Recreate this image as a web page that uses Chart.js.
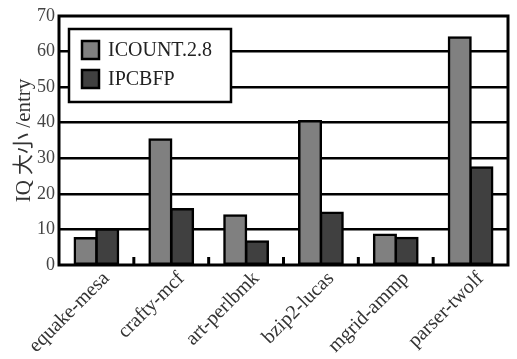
<!DOCTYPE html>
<html>
<head>
<meta charset="utf-8">
<script src="https://cdn.jsdelivr.net/npm/chart.js@4/dist/chart.umd.min.js"></script>
<style>
  html, body { margin: 0; padding: 0; background: #fff; }
  #wrap { width: 517px; height: 359px; }
</style>
</head>
<body>
<div id="wrap"><canvas id="iqChart"></canvas></div>
<script>
const categories = ['equake-mesa', 'crafty-mcf', 'art-perlbmk', 'bzip2-lucas', 'mgrid-ammp', 'parser-twolf'];
const icount = [7.5, 35.3, 13.9, 40.4, 8.5, 64.0];
const ipcbfp = [10.0, 15.7, 6.6, 14.7, 7.6, 27.4];
const yTicks = [0, 10, 20, 30, 40, 50, 60, 70];

const SERIF = '"Liberation Serif", "Noto Sans CJK SC", serif';

// frame, inner boundary ticks and boxed legend
const framePlugin = {
  id: 'frame',
  afterDatasetsDraw(chart) {
    const { ctx, chartArea: a } = chart;
    const x = chart.scales.x;
    ctx.save();
    ctx.strokeStyle = '#000';
    ctx.lineWidth = 3;
    for (let i = 0; i < categories.length - 1; i++) {
      const px = (x.getPixelForValue(i) + x.getPixelForValue(i + 1)) / 2;
      ctx.beginPath();
      ctx.moveTo(px, a.bottom);
      ctx.lineTo(px, a.bottom - 8);
      ctx.stroke();
    }
    ctx.strokeRect(a.left, a.top, a.right - a.left, a.bottom - a.top);

    // legend
    const lx = 69, ly = 29, lw = 162, lh = 73;
    ctx.fillStyle = '#fff';
    ctx.fillRect(lx, ly, lw, lh);
    ctx.lineWidth = 2.5;
    ctx.strokeRect(lx, ly, lw, lh);
    chart.data.datasets.forEach((ds, i) => {
      const sy = 41 + i * 29;
      ctx.fillStyle = ds.backgroundColor;
      ctx.fillRect(82, sy, 17, 18);
      ctx.lineWidth = 2.5;
      ctx.strokeStyle = '#000';
      ctx.strokeRect(82, sy, 17, 18);
      ctx.fillStyle = '#222';
      ctx.font = '20px ' + SERIF;
      ctx.textBaseline = 'middle';
      ctx.fillText(ds.label, 108, sy + 10);
    });
    ctx.restore();
  }
};

new Chart(document.getElementById('iqChart'), {
  type: 'bar',
  data: {
    labels: categories,
    datasets: [
      {
        label: 'ICOUNT.2.8',
        data: icount,
        backgroundColor: '#808080',
        borderColor: '#000',
        borderWidth: 2.5,
        borderSkipped: false,
        inflateAmount: 1.2
      },
      {
        label: 'IPCBFP',
        data: ipcbfp,
        backgroundColor: '#404040',
        borderColor: '#000',
        borderWidth: 2.5,
        borderSkipped: false,
        inflateAmount: 1.2
      }
    ]
  },
  options: {
    responsive: true,
    maintainAspectRatio: false,
    animation: false,
    events: [],
    layout: { padding: { top: 16, right: 9, left: 0, bottom: 0 } },
    categoryPercentage: 0.58,
    barPercentage: 1.0,
    plugins: {
      legend: { display: false },
      tooltip: { enabled: false }
    },
    scales: {
      x: {
        grid: { display: false },
        border: { display: false },
        ticks: {
          color: '#333',
          font: { family: SERIF, size: 20 },
          maxRotation: 45,
          minRotation: 45,
          padding: -6,
          labelOffset: 10
        },
        afterFit(s) { s.height = 94; }
      },
      y: {
        min: 0,
        max: 70,
        afterBuildTicks(s) { s.ticks = yTicks.map(v => ({ value: v })); },
        grid: {
          color: ctx => (ctx.tick && (ctx.tick.value === 0 || ctx.tick.value === 70)) ? 'rgba(0,0,0,0)' : '#000',
          lineWidth: 2.5,
          drawTicks: false
        },
        border: { display: false },
        ticks: {
          color: '#444',
          font: { family: SERIF, size: 18 },
          padding: 4
        },
        title: {
          display: true,
          text: 'IQ 大小 /entry',
          color: '#333',
          font: { family: SERIF, size: 21 },
          padding: { top: 12, bottom: 0 }
        },
        afterFit(s) { s.width = 59; }
      }
    }
  },
  plugins: [framePlugin]
});
</script>
</body>
</html>
